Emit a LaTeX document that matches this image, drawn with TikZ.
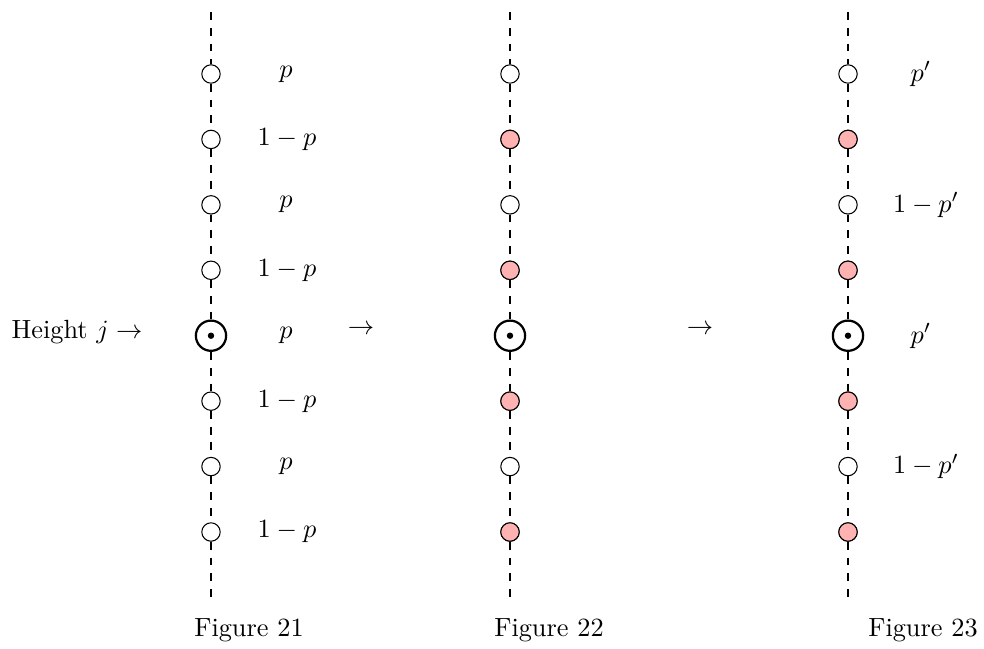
\documentclass[tikz,border=0pt]{standalone}
\begin{document}
\begin{tikzpicture}[x=0.38pt,y=-0.38pt,
  dot/.style={circle,draw,fill=white,minimum size=7pt,inner sep=0pt},
  pinkdot/.style={dot,fill=red!30},
  centre/.style={circle,draw,line width=0.85pt,fill=white,minimum size=11.5pt,inner sep=0pt},
  vline/.style={dashed},
  lab/.style={inner sep=0pt}]
\useasboundingbox (0,0) rectangle (984,649);
% columns
\foreach \c/\x in {a/211,b/510,c/848}{
  \coordinate (\c top) at (\x,12);
  \coordinate (\c bot) at (\x,597);
  \foreach \k in {0,...,7}{
    \pgfmathsetmacro{\y}{74+65.43*\k}
    \ifnum\k=4
      \node[centre] (\c\k) at (\x,\y) {};
    \else
      \node[dot] (\c\k) at (\x,\y) {};
    \fi
  }
  \draw[vline] (\c top) -- (\c0);
  \foreach \k [evaluate=\k as \j using int(\k+1)] in {0,...,6}{
    \draw[vline] (\c\k) -- (\c\j);
  }
  \draw[vline] (\c7) -- (\c bot);
  \fill (\c4) circle (3.2);
}
% pink dots in columns b and c
\foreach \c in {b,c}{
  \foreach \k in {1,3,5,7}{
    \node[pinkdot] at (\c\k) {};
  }
}
% labels column a
\foreach \k in {0,2,4,6}{
  \node[lab] (pa\k) at (286,74+65.43*\k) {$p$};
}
\foreach \k in {1,3,5,7}{
  \node[lab] (pa\k) at (287,74+65.43*\k) {$1-p$};
}
% labels column c
\foreach \k in {0,4}{
  \node[lab] (pc\k) at (921,74+65.43*\k) {$p'$};
}
\foreach \k in {2,6}{
  \node[lab] (pc\k) at (926,74+65.43*\k) {$1-p'$};
}
\node (h) at (77,332) {Height $j\rightarrow$};
\node (ar1) at (361,330) {$\rightarrow$};
\node (ar2) at (700,330) {$\rightarrow$};
\node (f1) at (249,630) {Figure 21};
\node (f2) at (549,630) {Figure 22};
\node (f3) at (923,630) {Figure 23};
\end{tikzpicture}
\end{document}
